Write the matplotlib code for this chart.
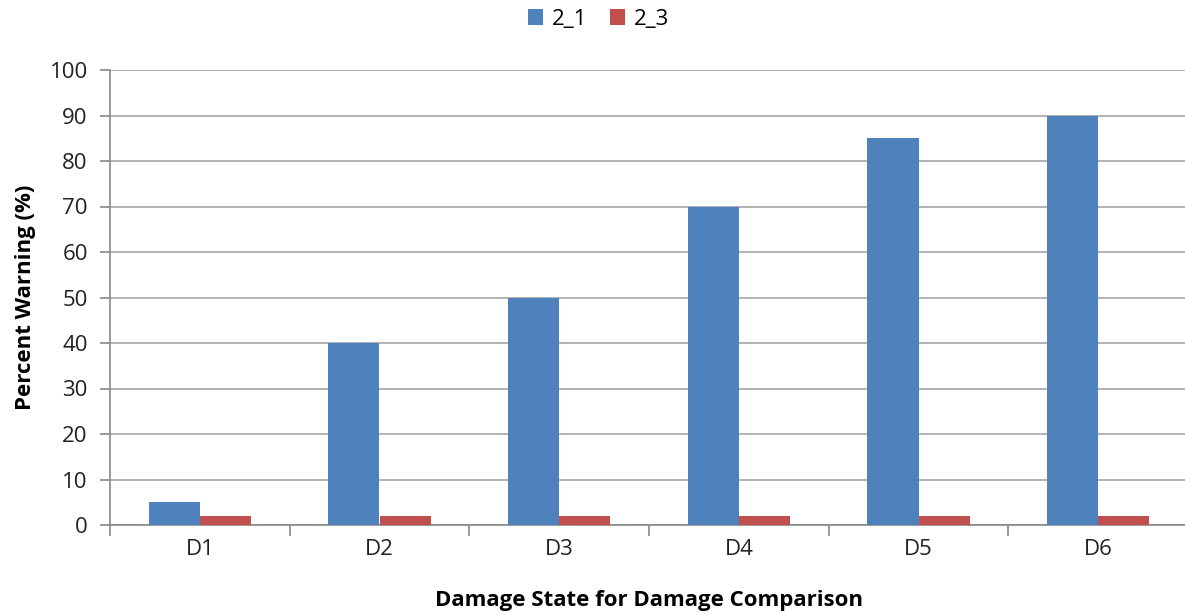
import numpy as np
import matplotlib.pyplot as plt

states = ["D1", "D2", "D3", "D4", "D5", "D6"]
warn_2_1 = [5, 40, 50, 70, 85, 90]
warn_2_3 = [2, 2, 2, 2, 2, 2]

plt.rcParams["font.family"] = ["Open Sans", "DejaVu Sans"]
fs = 16

fig = plt.figure(figsize=(11.85, 6.15), dpi=100)
ax = fig.add_axes([110 / 1185, 1 - 525 / 615, 1078 / 1185, 455 / 615])

x = np.arange(len(states))
w = 1 / 3.5
ax.bar(x - w / 2, warn_2_1, w, color="#4F81BD", label="2_1", zorder=3)
ax.bar(x + w / 2, warn_2_3, w, color="#C0504D", label="2_3", zorder=3)

ax.set_xlim(-0.5, len(states) - 0.5)
ax.set_ylim(0, 100)
ax.set_yticks(range(0, 101, 10))
ax.yaxis.grid(True, color="#a6a6a6", linewidth=1.2, zorder=0)

# category boundaries get the tick marks, centres get the labels
ax.set_xticks(np.arange(-0.5, len(states)), labels=[])
ax.set_xticks(x, labels=states, minor=True)
ax.tick_params(axis="x", which="major", length=8, color="#888888", width=1.2)
ax.tick_params(axis="x", which="minor", length=0, pad=10, labelsize=fs, colors="#222222")
ax.tick_params(axis="y", length=7, color="#888888", width=1.2, labelsize=fs,
               colors="#222222", pad=9)

for side in ["top", "right"]:
    ax.spines[side].set_visible(False)
for side in ["left", "bottom"]:
    ax.spines[side].set_color("#888888")
    ax.spines[side].set_linewidth(1.2)

ax.set_xlabel("Damage State for Damage Comparison", fontsize=fs, fontweight="bold",
              labelpad=22)
ax.set_ylabel("Percent Warning (%)", fontsize=fs, fontweight="bold", labelpad=10)

fig.legend(loc="upper center", bbox_to_anchor=(0.505, 1.018), ncol=2, frameon=False,
           fontsize=fs, handlelength=0.7, handleheight=0.7, handletextpad=0.4,
           columnspacing=1.0)

fig.savefig("out.png", dpi=100)
